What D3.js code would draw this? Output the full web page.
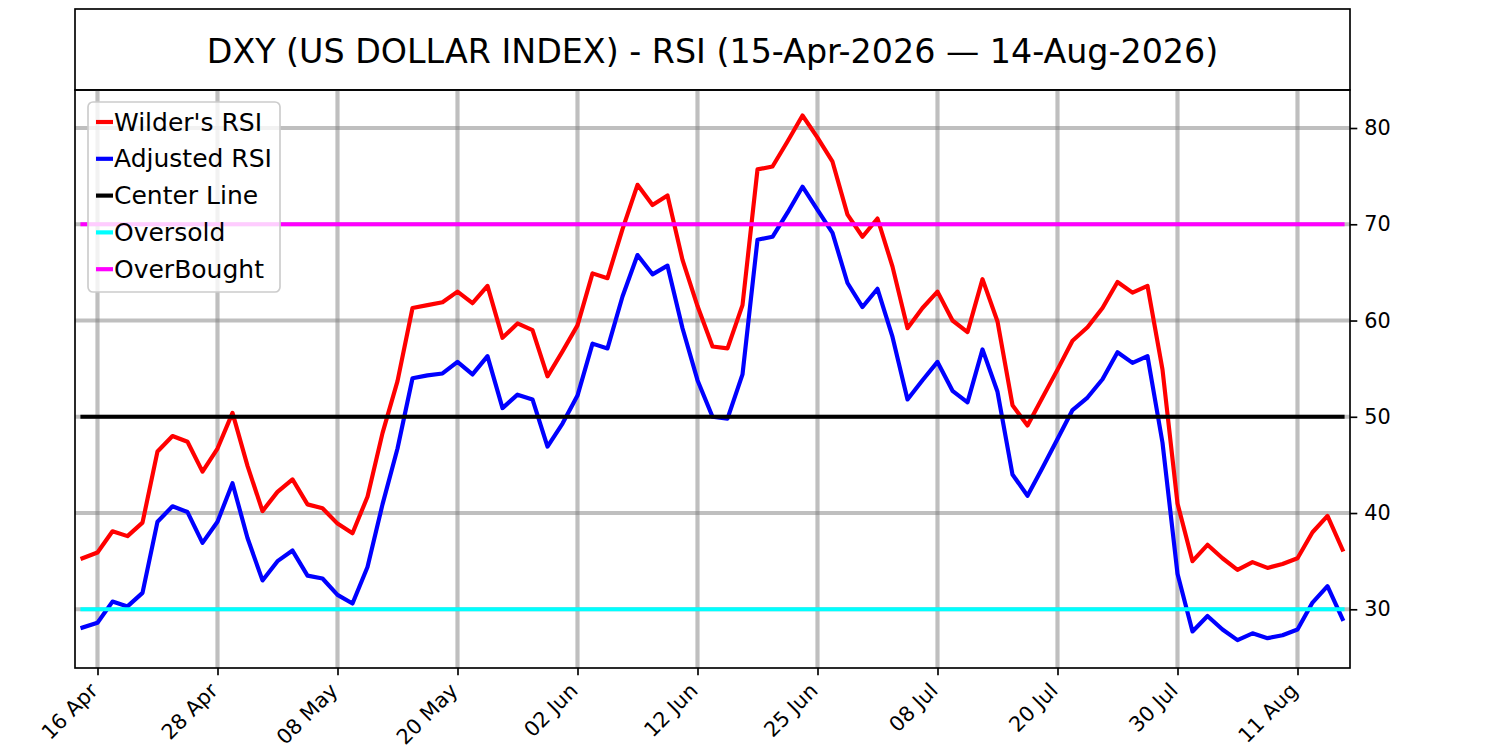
<!DOCTYPE html>
<html>
<head>
<meta charset="utf-8">
<title>DXY - RSI</title>
<script type="text/javascript" src="https://d3js.org/d3.v7.js"></script>
<style>
    * { margin: 0; padding: 0; }
    body { background: #fff; }
    #chart-container { width: 1500px; height: 750px; }
    svg { display: block; font-family: "DejaVu Sans", sans-serif; }
</style>
</head>
<body>
<div id="chart-container"></div>
<script type="text/javascript">

    // trading days (US calendar, holidays skipped)
    const dates = [
        "2026-04-15","2026-04-16","2026-04-17","2026-04-20","2026-04-21","2026-04-22","2026-04-23","2026-04-24",
        "2026-04-27","2026-04-28","2026-04-29","2026-04-30","2026-05-01","2026-05-04","2026-05-05","2026-05-06",
        "2026-05-07","2026-05-08","2026-05-11","2026-05-12","2026-05-13","2026-05-14","2026-05-15","2026-05-18",
        "2026-05-19","2026-05-20","2026-05-21","2026-05-22","2026-05-26","2026-05-27","2026-05-28","2026-05-29",
        "2026-06-01","2026-06-02","2026-06-03","2026-06-04","2026-06-05","2026-06-08","2026-06-09","2026-06-10",
        "2026-06-11","2026-06-12","2026-06-15","2026-06-16","2026-06-17","2026-06-18","2026-06-22","2026-06-23",
        "2026-06-24","2026-06-25","2026-06-26","2026-06-29","2026-06-30","2026-07-01","2026-07-02","2026-07-06",
        "2026-07-07","2026-07-08","2026-07-09","2026-07-10","2026-07-13","2026-07-14","2026-07-15","2026-07-16",
        "2026-07-17","2026-07-20","2026-07-21","2026-07-22","2026-07-23","2026-07-24","2026-07-27","2026-07-28",
        "2026-07-29","2026-07-30","2026-07-31","2026-08-03","2026-08-04","2026-08-05","2026-08-06","2026-08-07",
        "2026-08-10","2026-08-11","2026-08-12","2026-08-13","2026-08-14"
    ];

    const wilderRsi = [
        35.3, 35.9, 38.1, 37.6, 39.0, 46.4, 48.0, 47.4, 44.3, 46.7,
        50.4, 44.9, 40.2, 42.2, 43.5, 40.9, 40.5, 38.9, 37.9, 41.7,
        48.3, 53.7, 61.3, 61.6, 61.9, 63.0, 61.8, 63.6, 58.2, 59.7,
        59.0, 54.2, 56.8, 59.5, 64.9, 64.4, 69.5, 74.1, 72.0, 73.0,
        66.3, 61.5, 57.3, 57.1, 61.6, 75.7, 76.0, 78.6, 81.3, 79.0,
        76.5, 71.0, 68.7, 70.6, 65.6, 59.2, 61.3, 63.0, 60.0, 58.8,
        64.3, 59.9, 51.2, 49.1, 52.0, 54.9, 57.9, 59.3, 61.3, 64.0,
        62.9, 63.6, 54.9, 41.0, 35.0, 36.7, 35.3, 34.1, 34.9, 34.3,
        34.7, 35.3, 38.0, 39.7, 36.2
    ];

    const adjustedRsi = [
        28.1, 28.6, 30.8, 30.3, 31.7, 39.1, 40.7, 40.1, 36.9, 39.1,
        43.1, 37.4, 33.0, 35.0, 36.1, 33.5, 33.2, 31.5, 30.6, 34.4,
        40.9, 46.7, 54.0, 54.3, 54.5, 55.7, 54.4, 56.3, 50.9, 52.3,
        51.8, 46.9, 49.3, 52.2, 57.6, 57.1, 62.5, 66.8, 64.8, 65.7,
        59.2, 53.8, 50.0, 49.8, 54.4, 68.4, 68.7, 71.2, 73.9, 71.5,
        69.1, 63.9, 61.4, 63.3, 58.3, 51.8, 53.8, 55.7, 52.7, 51.5,
        57.0, 52.6, 44.0, 41.8, 44.7, 47.7, 50.7, 52.0, 53.9, 56.7,
        55.6, 56.3, 47.3, 33.7, 27.7, 29.3, 27.9, 26.8, 27.5, 27.0,
        27.3, 27.9, 30.7, 32.4, 29.0
    ];

    const centerLine = 50;
    const oversold = 30;
    const overbought = 70;

    const tickDates = ["2026-04-16","2026-04-28","2026-05-08","2026-05-20","2026-06-02","2026-06-12",
                       "2026-06-25","2026-07-08","2026-07-20","2026-07-30","2026-08-11"];
    const yTicks = [30, 40, 50, 60, 70, 80];
    const yRange = [23.9, 83.95];

    const titleText = "DXY (US DOLLAR INDEX) - RSI (15-Apr-2026 \u2014 14-Aug-2026)";
    const legendLabels = ["Wilder's RSI", "Adjusted RSI", "Center Line", "Oversold", "OverBought"];

    // layout (px, figure looks like 150 dpi)
    const width = 1500, height = 750;
    const plot = { left: 75, right: 1350, top: 90, bottom: 668 };
    const titleTop = 9;
    const lw = 4.17;      // 2pt
    const spineW = 1.67;  // 0.8pt
    const tickLen = 7.3;  // 3.5pt

    const svg = d3.select("#chart-container")
        .append("svg")
        .attr("width", width)
        .attr("height", height)
        .style("background", "#fff");

    const x = d3.scaleLinear()
        .domain([-0.5, dates.length - 0.5])
        .range([plot.left, plot.right]);

    const y = d3.scaleLinear()
        .domain(yRange)
        .range([plot.bottom, plot.top]);

    const parse = d3.timeParse("%Y-%m-%d");
    const fmt = d3.timeFormat("%d %b");
    const tickIdx = tickDates.map(d => dates.indexOf(d));

    // title box
    svg.append("rect")
        .attr("x", plot.left).attr("y", titleTop)
        .attr("width", plot.right - plot.left).attr("height", plot.top - titleTop)
        .attr("fill", "none").attr("stroke", "#000").attr("stroke-width", spineW);

    svg.append("text")
        .attr("x", (plot.left + plot.right) / 2)
        .attr("y", (titleTop + plot.top) / 2 + 2)
        .attr("text-anchor", "middle")
        .attr("dominant-baseline", "central")
        .style("font-size", "33.3px")
        .text(titleText);

    // grid
    const grid = svg.append("g")
        .attr("stroke", "#808080")
        .attr("stroke-opacity", 0.5)
        .attr("stroke-width", lw);

    grid.selectAll(".vgrid").data(tickIdx).join("line")
        .attr("x1", d => x(d)).attr("x2", d => x(d))
        .attr("y1", plot.top).attr("y2", plot.bottom);

    grid.selectAll(".hgrid").data(yTicks).join("line")
        .attr("x1", plot.left).attr("x2", plot.right)
        .attr("y1", d => y(d)).attr("y2", d => y(d));

    // series
    const line = d3.line()
        .x((d, i) => x(i))
        .y(d => y(d));

    const seriesList = [
        { values: wilderRsi, color: "#ff0000" },
        { values: adjustedRsi, color: "#0000ff" }
    ];

    svg.selectAll(".series").data(seriesList).join("path")
        .attr("class", "series")
        .attr("d", d => line(d.values))
        .attr("fill", "none")
        .attr("stroke", d => d.color)
        .attr("stroke-width", lw)
        .attr("stroke-linejoin", "round")
        .attr("stroke-linecap", "square");

    // reference levels
    const levels = [
        { v: centerLine, color: "#000000" },
        { v: oversold, color: "#00ffff" },
        { v: overbought, color: "#ff00ff" }
    ];

    svg.selectAll(".level").data(levels).join("line")
        .attr("class", "level")
        .attr("x1", x(0)).attr("x2", x(dates.length - 1))
        .attr("y1", d => y(d.v)).attr("y2", d => y(d.v))
        .attr("stroke", d => d.color)
        .attr("stroke-width", lw)
        .attr("stroke-linecap", "square");

    // frame
    svg.append("rect")
        .attr("x", plot.left).attr("y", plot.top)
        .attr("width", plot.right - plot.left).attr("height", plot.bottom - plot.top)
        .attr("fill", "none").attr("stroke", "#000").attr("stroke-width", spineW);

    // y axis on the right
    const yAxis = svg.append("g")
        .attr("transform", `translate(${plot.right},0)`)
        .call(d3.axisRight(y).tickValues(yTicks).tickSize(tickLen).tickPadding(7));
    yAxis.select(".domain").remove();
    yAxis.selectAll("line").attr("stroke", "#000").attr("stroke-width", spineW);
    yAxis.selectAll("text")
        .attr("fill", "#000")
        .style("font-family", "DejaVu Sans")
        .style("font-size", "20.8px");

    // x axis
    const xAxis = svg.append("g")
        .attr("transform", `translate(0,${plot.bottom})`)
        .call(d3.axisBottom(x).tickValues(tickIdx).tickSize(tickLen)
            .tickFormat(i => fmt(parse(dates[i]))));
    xAxis.select(".domain").remove();
    xAxis.selectAll("line").attr("stroke", "#000").attr("stroke-width", spineW);
    xAxis.selectAll("text")
        .attr("fill", "#000")
        .attr("x", 0).attr("y", 0).attr("dy", null)
        .attr("text-anchor", "end")
        .attr("transform", "translate(1,24) rotate(-45)")
        .style("font-family", "DejaVu Sans")
        .style("font-size", "20.8px");

    // legend
    const legendColors = ["#ff0000", "#0000ff", "#000000", "#00ffff", "#ff00ff"];
    const legend = svg.append("g");
    legend.append("rect")
        .attr("x", 88).attr("y", 102)
        .attr("width", 192).attr("height", 190)
        .attr("rx", 5)
        .attr("fill", "#fff").attr("fill-opacity", 0.8)
        .attr("stroke", "#cccccc").attr("stroke-width", 1.67);

    const rows = legend.selectAll(".row").data(legendLabels).join("g")
        .attr("transform", (d, i) => `translate(0,${122 + i * 36.8})`);
    rows.append("line")
        .attr("x1", 96).attr("x2", 113)
        .attr("stroke", (d, i) => legendColors[i])
        .attr("stroke-width", lw);
    rows.append("text")
        .attr("x", 114)
        .attr("dominant-baseline", "central")
        .style("font-size", "25px")
        .text(d => d);

</script>
</body>
</html>
